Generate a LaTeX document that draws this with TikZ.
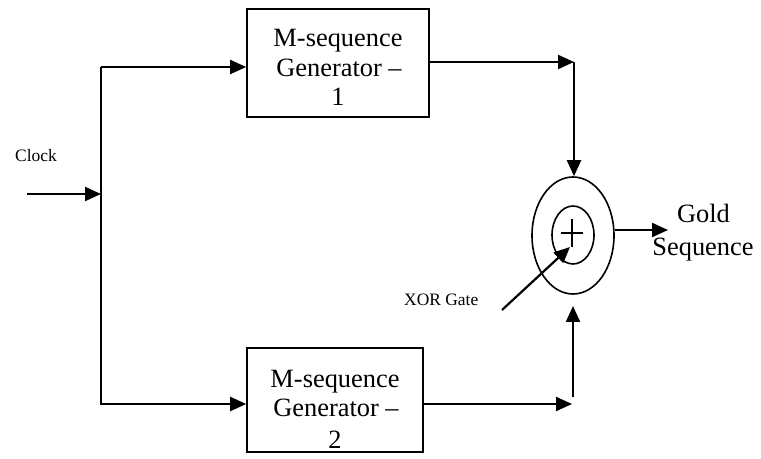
\documentclass[tikz,border=0pt]{standalone}
\usepackage{fontspec}
\setmainfont{Liberation Serif}
\usetikzlibrary{arrows.meta,shapes.geometric}
\begin{document}
\begin{tikzpicture}[x=1bp,y=-1bp,
  conn/.style={line width=2.2bp,-{Triangle[length=16bp,width=14bp]}},
  wire/.style={line width=2.2bp},
  box/.style={draw,line width=1.6bp,inner sep=0pt},
  big/.style={font=\fontsize{26.5}{29}\selectfont,inner sep=0pt,anchor=base},
  small/.style={font=\fontsize{17.5}{20}\selectfont,inner sep=0pt,anchor=base west},
  ring/.style={draw,ellipse,line width=1.6bp,inner sep=0pt}]
\useasboundingbox (0,0) rectangle (761,459);
\fill[white] (0,0) rectangle (761,459);

% generator boxes
\node[box,minimum width=182bp,minimum height=108bp] (g1) at (338,63) {};
\node[big] (g1a) at (338,47) {M-sequence};
\node[big] (g1b) at (339,76.5) {Generator –};
\node[big] (g1c) at (338,106) {1};

\node[box,minimum width=176bp,minimum height=104bp] (g2) at (335,400) {};
\begin{scope}
  \clip (248,349) rectangle (422,450);
  \node[big] (g2a) at (335,387) {M-sequence};
  \node[big] (g2b) at (336,416.5) {Generator –};
  \node[big] (g2c) at (335,448) {2};
\end{scope}

% XOR gate
\node[ring,minimum width=82bp,minimum height=117bp] (xor) at (573,235.5) {};
\node[ring,minimum width=42bp,minimum height=58bp] (xin) at (573,235) {};
\coordinate (pl) at (561,233);
\coordinate (pr) at (583,233);
\coordinate (pt) at (572,219);
\coordinate (pb) at (572,247);
\draw[line width=1.2bp] (pl) -- (pr);
\draw[line width=1.2bp] (pt) -- (pb);

% labels
\node[small] (clk) at (15,161.5) {Clock};
\node[small] (xl) at (404,306) {XOR Gate};
\node[big] (gold) at (703.5,223) {Gold};
\node[big] (seq) at (703,256) {Sequence};

% coordinates
\coordinate (clkin) at (27,194);
\coordinate (bclk) at (101,194);
\coordinate (btop) at (101,67);
\coordinate (bbot) at (101,405);
\coordinate (blow) at (101,404);
\coordinate (c1) at (574,62);
\coordinate (c2) at (572,404);
\coordinate (c2b) at (573,397);
\coordinate (c2t) at (573,306);
\coordinate (x0) at (502,310);
\coordinate (x1) at (570,247);
\coordinate (out) at (668,230);

% connectors
\draw[conn] (clkin) -- (bclk);
\draw[wire] (btop) -- (bbot);
\draw[conn] (btop) -- (btop -| g1.west);
\draw[conn] (blow) -- (blow -| g2.west);
\draw[conn] (g1.east |- c1) -- (c1);
\draw[conn] (c1) -- (c1 |- xor.north);
\draw[conn] (g2.east |- c2) -- (c2);
\draw[conn] (c2b) -- (c2t);
\draw[conn] (x0) -- (x1);
\draw[conn] (xor.east |- out) -- (out);
\end{tikzpicture}
\end{document}
